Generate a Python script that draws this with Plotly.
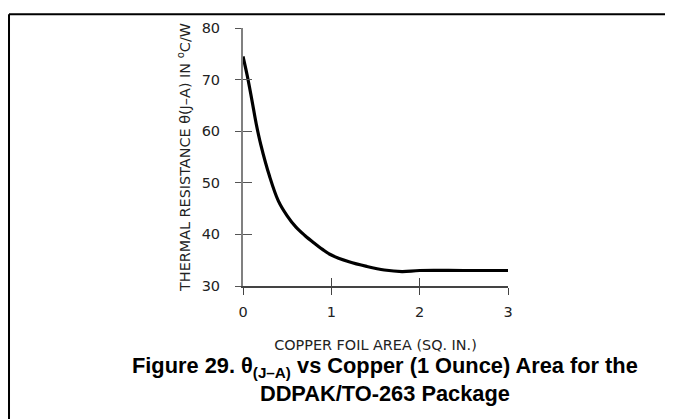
import plotly.graph_objects as go

# copper foil area (sq. in.) vs thermal resistance (C/W)
area = [0.0, 0.05, 0.1, 0.15, 0.2, 0.3, 0.4, 0.5, 0.6, 0.7, 0.8, 0.9, 1.0,
        1.2, 1.4, 1.6, 1.8, 2.0, 2.5, 3.0]
theta_ja = [74.5, 70.6, 66.1, 61.4, 57.5, 51.3, 46.5, 43.6, 41.4, 39.8, 38.4, 37.1, 36.0,
            34.7, 33.8, 33.1, 32.8, 33.0, 33.0, 33.0]

x_ticks = [0, 1, 2, 3]
y_ticks = [30, 40, 50, 60, 70, 80]

label_font = dict(family='DejaVu Sans', size=14.4, color='#222')
tick_font = dict(family='DejaVu Sans', size=14.5, color='#222')

fig = go.Figure()

fig.add_trace(go.Scatter(
    x=area, y=theta_ja, mode='lines',
    line=dict(color='black', width=3.2, shape='spline', smoothing=1.0),
    hoverinfo='skip', showlegend=False
))
# invisible copy so the overlay axes (inner half of the ticks) get drawn
fig.add_trace(go.Scatter(
    x=area, y=theta_ja, mode='lines', xaxis='x2', yaxis='y2',
    line=dict(color='rgba(0,0,0,0)', width=0),
    hoverinfo='skip', showlegend=False
))

# page body has an 8px margin, so the figure is sized/offset to compensate
fig.update_layout(
    width=665, height=411,
    margin=dict(l=235, r=165, t=15, b=133),
    paper_bgcolor='white', plot_bgcolor='white',
    xaxis=dict(
        range=[0, 3], tickvals=x_ticks, showgrid=False, zeroline=False,
        showline=True, linecolor='#444', linewidth=1.5,
        ticks='outside', ticklen=7, tickcolor='#444', tickwidth=1.2,
        tickfont=tick_font, ticklabelstandoff=5,
        title=dict(text='COPPER FOIL AREA (SQ. IN.)', font=label_font, standoff=21),
    ),
    yaxis=dict(
        range=[30, 80], tickvals=y_ticks, showgrid=False, zeroline=False,
        showline=True, linecolor='#808080', linewidth=2,
        ticks='outside', ticklen=6, tickcolor='#555', tickwidth=1.2,
        tickfont=tick_font, ticklabelstandoff=12,
        title=dict(text='THERMAL RESISTANCE \u03b8(J\u2013A) IN <sup>o</sup>C/W',
                   font=label_font, standoff=8),
    ),
    xaxis2=dict(
        range=[0, 3], tickvals=x_ticks, overlaying='x', anchor='y2',
        showgrid=False, zeroline=False, showline=False, showticklabels=False,
        ticks='inside', ticklen=8, tickcolor='#444', tickwidth=1.2,
    ),
    yaxis2=dict(
        range=[30, 80], tickvals=y_ticks, overlaying='y', anchor='x2', side='left',
        showgrid=False, zeroline=False, showline=False, showticklabels=False,
        ticks='inside', ticklen=9, tickcolor='#555', tickwidth=1.2,
    ),
    annotations=[dict(
        xref='paper', yref='paper', x=0.535, y=-0.25, xanchor='center', yanchor='top',
        text='<b>Figure 29. \u03b8<sub>(J\u2013A)</sub> vs Copper (1 Ounce) Area for the<br>'
             'DDPAK/TO-263 Package</b>',
        showarrow=False, align='center',
        font=dict(family='Liberation Sans', size=21.8, color='black'),
    )],
    shapes=[
        # page frame: left and top rules
        dict(type='line', xref='paper', yref='paper', x0=-0.883, x1=-0.883,
             y0=1.053, y1=-0.52, line=dict(color='black', width=2)),
        dict(type='line', xref='paper', yref='paper', x0=-0.883, x1=1.63,
             y0=1.053, y1=1.053, line=dict(color='black', width=2)),
    ],
)

fig.write_html("out.html")
